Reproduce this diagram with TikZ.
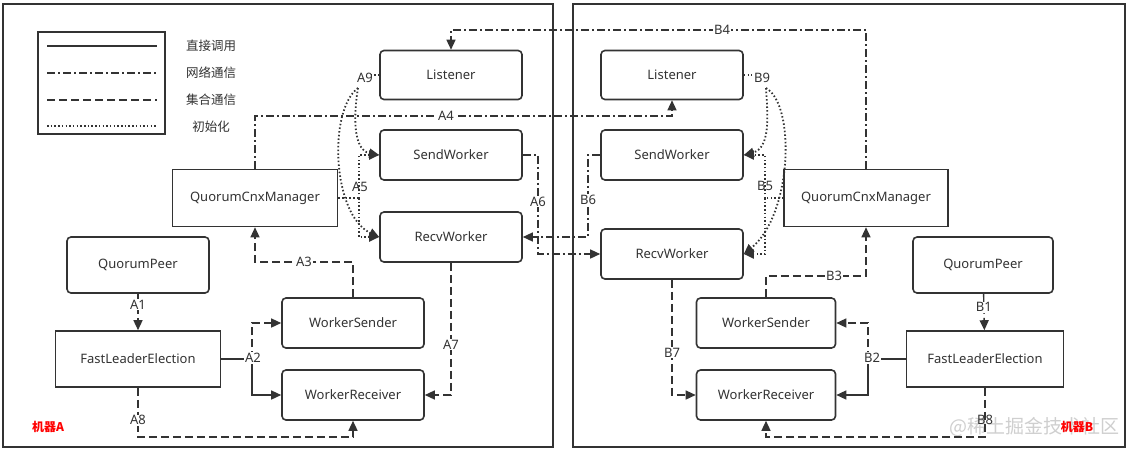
\documentclass[tikz,border=0pt]{standalone}
\usepackage{fontspec}
\setmainfont{Noto Sans}
\newfontfamily\cjk{Noto Sans CJK SC}
\usetikzlibrary{arrows.meta}
\definecolor{dc}{HTML}{333333}
\definecolor{wm}{HTML}{CFCFCF}
\begin{document}
\begin{tikzpicture}[x=1pt,y=-1pt,
  box/.style={draw=dc, line width=1.6pt, rounded corners=4pt, text=dc, inner sep=0pt,
    font=\fontsize{13}{15}\selectfont},
  sbox/.style={box, rounded corners=0pt},
  lbl/.style={fill=white, inner sep=1pt, text=dc, font=\fontsize{13}{15}\selectfont},
  dirl/.style={draw=dc, line width=1.4pt},
  netl/.style={draw=dc, line width=1.4pt, dash pattern=on 8pt off 3pt on 2pt off 3pt},
  coll/.style={draw=dc, line width=1.4pt, dash pattern=on 8pt off 4pt},
  inil/.style={draw=dc, line width=1.8pt, dash pattern=on 1.5pt off 2.2pt},
  tip/.style={-{Triangle[length=10pt,width=9pt]}},
  leg/.style={text=dc, font=\cjk\fontsize{12.5}{14}\selectfont},
  mach/.style={text=red, font=\cjk\bfseries\fontsize{12}{14}\selectfont}
]
\useasboundingbox (0,0) rectangle (1129,451);
\fill[white] (0,0) rectangle (1129,451);

% watermark
\node[text=wm, font=\cjk\fontsize{19}{21}\selectfont] (wmk) at (1034,427) {@稀土掘金技术社区};

% machine frames
\draw[dc, line width=1.8pt] (3,4) rectangle (553,447);
\draw[dc, line width=1.8pt] (573,4) rectangle (1125,447);

% legend
\draw[dc, line width=1.6pt] (38,32) rectangle (165,134);
\draw[dirl] (47,46) -- (157,46);
\draw[netl] (47,73) -- (157,73);
\draw[coll] (47,100) -- (157,100);
\draw[inil] (47,126) -- (157,126);
\node[leg] (l1) at (211,46) {直接调用};
\node[leg] (l2) at (211,73) {网络通信};
\node[leg] (l3) at (211,100) {集合通信};
\node[leg] (l4) at (211,127) {初始化};

% machine A nodes
\node[box, minimum width=142pt, minimum height=49pt] (LA) at (451,75) {Listener};
\node[box, minimum width=142pt, minimum height=50pt] (SWA) at (451,155) {SendWorker};
\node[box, minimum width=142pt, minimum height=50pt] (RWA) at (451,237) {RecvWorker};
\node[sbox, minimum width=165pt, minimum height=57pt] (QCMA) at (255,198) {QuorumCnxManager};
\node[box, minimum width=142pt, minimum height=56pt] (QPA) at (138,265) {QuorumPeer};
\node[sbox, minimum width=165pt, minimum height=56pt] (FLEA) at (138,359) {FastLeaderElection};
\node[box, minimum width=142pt, minimum height=50pt] (WSA) at (353,323) {WorkerSender};
\node[box, minimum width=142pt, minimum height=50pt] (WRA) at (353,395) {WorkerReceiver};

% machine B nodes
\node[box, minimum width=142pt, minimum height=49pt] (LB) at (672,75) {Listener};
\node[box, minimum width=142pt, minimum height=50pt] (SWB) at (672,155) {SendWorker};
\node[box, minimum width=142pt, minimum height=50pt] (RWB) at (672,254) {RecvWorker};
\node[sbox, minimum width=164pt, minimum height=57pt] (QCMB) at (866,198) {QuorumCnxManager};
\node[box, minimum width=140pt, minimum height=56pt] (QPB) at (983,265) {QuorumPeer};
\node[sbox, minimum width=157pt, minimum height=56pt] (FLEB) at (985,359) {FastLeaderElection};
\node[box, minimum width=139pt, minimum height=50pt] (WSB) at (766,323) {WorkerSender};
\node[box, minimum width=139pt, minimum height=50pt] (WRB) at (766,395) {WorkerReceiver};

% ---------- machine A connectors
% A1
\draw[coll,tip] (QPA) -- node[lbl,pos=0.3]{A1} (FLEA);
% A2
\coordinate (a2) at (252,359);
\draw[coll,tip] (a2) |- (WSA.west);
\draw[dirl,tip] (a2) |- (WRA.west);
\draw[dirl] (FLEA.east) -- (a2);
\node[lbl] (a2l) at (253,358) {A2};
% A3
\coordinate (a3) at (353,262);
\draw[coll,tip] (WSA.north) -- (a3) -- node[lbl,pos=0.5]{A3} (a3 -| QCMA.south) -- (QCMA.south);
% A4
\coordinate (a4) at (255,116);
\draw[netl,tip] (QCMA.north) -- (a4) -- node[lbl,pos=0.458]{A4} (a4 -| LB.south) -- (LB.south);
% A5
\coordinate (a5) at (359,198);
\draw[inil] (QCMA.east) -- (a5);
\draw[inil,tip] (a5) |- (SWA.west);
\draw[inil,tip] (a5) |- (RWA.west);
\node[lbl, fill=none] (a5l) at (360,187) {A5};
% A9
\coordinate (a9s) at (371,75);
\coordinate (a9) at (358,88);
\draw[inil] (LA.west) -- (a9s);
\draw[inil,tip] (a9) .. controls (354,112) and (352,150) .. (SWA.west);
\draw[inil,tip] (a9) .. controls (328,110) and (332,215) .. (RWA.west);
\node[lbl, fill=none] (a9l) at (365,78) {A9};
% A6
\coordinate (a6) at (538,155);
\coordinate (a6b) at (538,254);
\draw[netl,tip] (SWA.east) -- (a6) -- node[lbl,pos=0.47]{A6} (a6b) -- (RWB.west);
% A7
\coordinate (a7) at (451,395);
\draw[coll,tip] (RWA.south) -- node[lbl,pos=0.62]{A7} (a7) -- (WRA.east);
% A8
\coordinate (a8) at (138,437);
\draw[coll,tip] (FLEA.south) -- node[lbl,pos=0.66]{A8} (a8) -| (WRA.south);

% ---------- machine B connectors
% B1
\draw[coll,tip] (QPB) -- node[lbl,pos=0.37]{B1} (FLEB);
% B2
\coordinate (b2) at (868,359);
\draw[coll,tip] (b2) |- (WSB.east);
\draw[dirl,tip] (b2) |- (WRB.east);
\draw[dirl] (FLEB.west) -- (b2);
\node[lbl] (b2l) at (872,358) {B2};
% B3
\coordinate (b3) at (766,276);
\draw[coll,tip] (WSB.north) -- (b3) -- node[lbl,pos=0.68]{B3} (b3 -| QCMB.south) -- (QCMB.south);
% B4
\coordinate (b4) at (866,30);
\draw[netl,tip] (QCMB.north) -- (b4) -- node[lbl,pos=0.347]{B4} (b4 -| LA.north) -- (LA.north);
% B5
\coordinate (b5) at (765,198);
\draw[inil] (QCMB.west) -- (b5);
\draw[inil,tip] (b5) |- (SWB.east);
\draw[inil,tip] (b5) |- (RWB.east);
\node[lbl, fill=none] (b5l) at (765,186) {B5};
% B9
\coordinate (b9s) at (752,75);
\coordinate (b9) at (766,88);
\draw[inil] (LB.east) -- (b9s);
\draw[inil,tip] (b9) .. controls (768,118) and (770,148) .. (SWB.east);
\draw[inil,tip] (b9) .. controls (796,105) and (792,215) .. (RWB.east);
\node[lbl, fill=none] (b9l) at (762,78) {B9};
% B6
\coordinate (b6) at (588,155);
\coordinate (b6b) at (588,237);
\draw[netl,tip] (SWB.west) -- (b6) -- node[lbl,pos=0.55]{B6} (b6b) -- (RWA.east);
% B7
\coordinate (b7) at (672,395);
\draw[coll,tip] (RWB.south) -- node[lbl,pos=0.63]{B7} (b7) -- (WRB.west);
% B8
\coordinate (b8) at (985,437);
\draw[coll,tip] (FLEB.south) -- node[lbl,pos=0.66, fill=none]{B8} (b8) -| (WRB.south);

% machine labels
\node[mach] (ma) at (48,427) {机器A};
\node[mach] (mb) at (1077,427) {机器B};
\end{tikzpicture}
\end{document}
